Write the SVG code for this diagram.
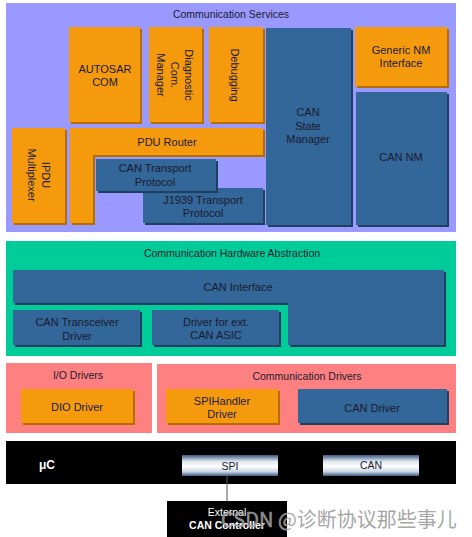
<svg xmlns="http://www.w3.org/2000/svg" width="472" height="537" viewBox="0 0 472 537">
<defs>
<style>
text{font-family:"Liberation Sans",Arial,sans-serif;font-size:11px;fill:#1a1a2e;text-anchor:middle;dominant-baseline:central}
.title{font-size:10.5px}
.org{fill:#f59a0c}
.orgS{fill:#b56d00}
.blu{fill:#336699}
.bluS{fill:#1f3f5f}
.w{fill:#ffffff}
</style>
<linearGradient id="chip" x1="0" y1="0" x2="0" y2="1">
<stop offset="0" stop-color="#3c5a80"/>
<stop offset="0.3" stop-color="#dfe6f0"/>
<stop offset="0.55" stop-color="#ffffff"/>
<stop offset="0.8" stop-color="#c8d3e2"/>
<stop offset="1" stop-color="#3c5a80"/>
</linearGradient>
</defs>
<rect width="472" height="537" fill="#ffffff"/>

<g id="comm-services">
<rect x="6" y="3" width="450" height="229" fill="#9999ff"/>
<text class="title" x="231" y="14">Communication Services</text>
</g>

<g id="autosar-com">
<rect class="orgS" x="71" y="29" width="71" height="95"/>
<rect class="org" x="69" y="27" width="71" height="95"/>
<text x="105" y="69">AUTOSAR</text><text x="105" y="82">COM</text>
</g>

<g id="dcm">
<rect class="orgS" x="151" y="29" width="53" height="95"/>
<rect class="org" x="149" y="27" width="53" height="95"/>
<g transform="translate(175,75) rotate(90)">
<text x="0" y="-14">Diagnostic</text><text x="0" y="0">Com.</text><text x="0" y="14">Manager</text>
</g>
</g>

<g id="debugging">
<rect class="orgS" x="211" y="29" width="54" height="95"/>
<rect class="org" x="209" y="27" width="54" height="95"/>
<text transform="translate(235,75) rotate(90)" x="0" y="0">Debugging</text>
</g>

<g id="can-state-manager">
<rect class="bluS" x="268" y="30" width="85" height="197"/>
<rect class="blu" x="266" y="28" width="85" height="197"/>
<text x="308" y="112">CAN</text><text x="308" y="126">State</text><text x="308" y="139">Manager</text>
</g>

<g id="generic-nm">
<rect class="orgS" x="357" y="29" width="92" height="59"/>
<rect class="org" x="355" y="27" width="92" height="59"/>
<text x="401" y="50">Generic NM</text><text x="401" y="63">Interface</text>
</g>

<g id="can-nm">
<rect class="bluS" x="358" y="94" width="91" height="133"/>
<rect class="blu" x="356" y="92" width="91" height="133"/>
<text x="401" y="157">CAN NM</text>
</g>

<g id="ipdu-mux">
<rect class="orgS" x="14" y="130" width="53" height="95"/>
<rect class="org" x="12" y="128" width="53" height="95"/>
<g transform="translate(39,175) rotate(90)">
<text x="0" y="-7">IPDU</text><text x="0" y="7">Multiplexer</text>
</g>
</g>

<g id="pdu-router">
<path class="orgS" d="M72 130 H265 V157 H95 V225 H72 Z"/>
<path class="org" d="M70 128 H263 V155 H93 V223 H70 Z"/>
<text x="167" y="142">PDU Router</text>
</g>

<g id="j1939-tp">
<rect class="bluS" x="145" y="190" width="120" height="35"/>
<rect class="blu" x="143" y="188" width="120" height="35"/>
<text x="203" y="200">J1939 Transport</text><text x="203" y="213">Protocol</text>
</g>

<g id="can-tp">
<rect class="bluS" x="98" y="161" width="120" height="32"/>
<rect class="blu" x="96" y="159" width="120" height="32"/>
<text x="155" y="168">CAN Transport</text><text x="155" y="182">Protocol</text>
</g>

<g id="comm-hw-abstraction">
<rect x="6" y="241" width="450" height="115" fill="#00cc99"/>
<text class="title" x="232" y="253">Communication Hardware Abstraction</text>
</g>

<g id="can-interface">
<path class="bluS" d="M15 272 H446 V347 H290 V305 H15 Z"/>
<path class="blu" d="M13 270 H444 V345 H288 V303 H13 Z"/>
<text x="238" y="287">CAN Interface</text>
</g>

<g id="can-transceiver">
<rect class="bluS" x="15" y="312" width="127" height="35"/>
<rect class="blu" x="13" y="310" width="127" height="35"/>
<text x="77" y="322">CAN Transceiver</text><text x="77" y="336">Driver</text>
</g>

<g id="ext-can-asic">
<rect class="bluS" x="154" y="312" width="127" height="35"/>
<rect class="blu" x="152" y="310" width="127" height="35"/>
<text x="216" y="322">Driver for ext.</text><text x="216" y="335">CAN ASIC</text>
</g>

<g id="io-drivers">
<rect x="6" y="363" width="146" height="70" fill="#ff8080"/>
<text class="title" x="78" y="375">I/O Drivers</text>
</g>

<g id="dio-driver">
<rect class="orgS" x="23" y="391" width="112" height="34"/>
<rect class="org" x="21" y="389" width="112" height="34"/>
<text x="77" y="407">DIO Driver</text>
</g>

<g id="comm-drivers">
<rect x="157" y="364" width="299" height="69" fill="#ff8080"/>
<text class="title" x="307" y="376">Communication Drivers</text>
</g>

<g id="spi-handler">
<rect class="orgS" x="168" y="391" width="112" height="34"/>
<rect class="org" x="166" y="389" width="112" height="34"/>
<text x="222" y="401">SPIHandler</text><text x="222" y="414">Driver</text>
</g>

<g id="can-driver">
<rect class="bluS" x="300" y="391" width="149" height="34"/>
<rect class="blu" x="298" y="389" width="149" height="34"/>
<text x="372" y="408">CAN Driver</text>
</g>

<g id="uc">
<rect x="6" y="441" width="450" height="43" fill="#000000"/>
<text class="w" x="47" y="465" style="font-weight:bold;font-size:12px">μC</text>
</g>

<g id="spi">
<rect x="182" y="455" width="96" height="21" fill="url(#chip)"/>
<text x="230" y="466" style="font-size:10.5px">SPI</text>
</g>

<g id="can">
<rect x="323" y="455" width="96" height="21" fill="url(#chip)"/>
<text x="371" y="465" style="font-size:10.5px">CAN</text>
</g>

<g id="connectors">
<line x1="227" y1="476" x2="227" y2="501" stroke="#555555" stroke-width="1"/>
</g>

<g id="ext-can-controller">
<rect x="167" y="501" width="120" height="36" fill="#000000"/>
<text class="w" x="227" y="512" style="font-size:10.5px">External</text>
<text class="w" x="227" y="525" style="font-size:10.5px;font-weight:bold">CAN Controller</text>
</g>

<text x="339" y="518" style="font-family:'Noto Sans CJK SC','Liberation Sans',sans-serif;font-size:20px;fill:#9a9a9a;fill-opacity:0.9;stroke:#ffffff;stroke-opacity:0.5;stroke-width:0.6;paint-order:stroke">CSDN @诊断协议那些事儿</text>
</svg>
